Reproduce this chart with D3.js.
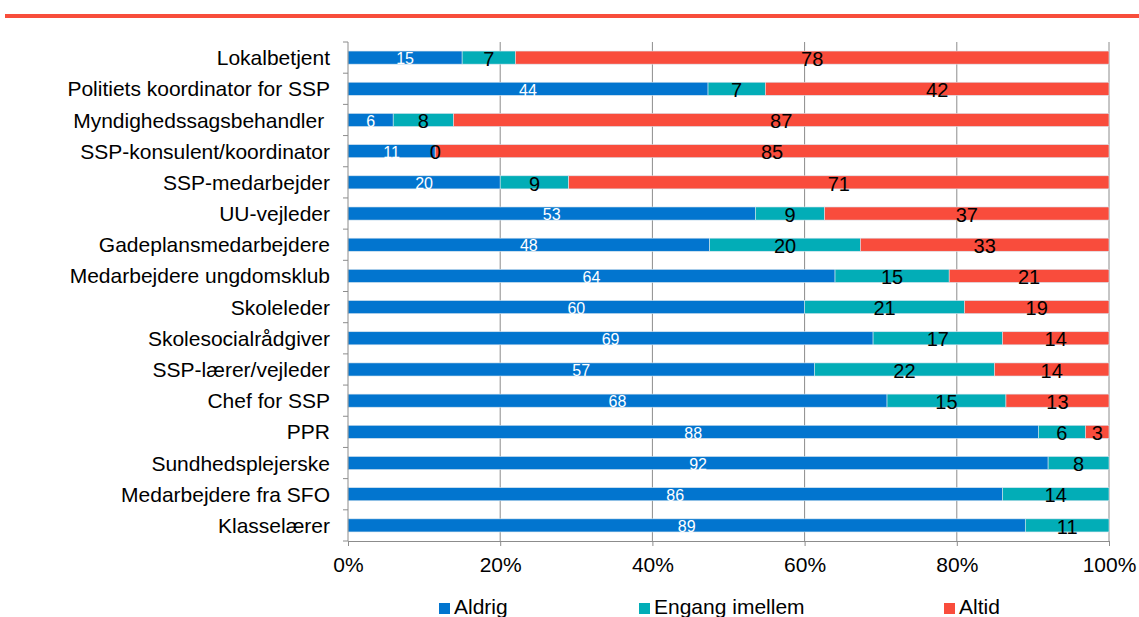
<!DOCTYPE html>
<html>
<head>
<meta charset="utf-8">
<script src="https://cdn.jsdelivr.net/npm/d3@7"></script>
<style>
  html, body { margin: 0; padding: 0; background: #fff; }
  svg { display: block; font-family: "Liberation Sans", Arial, sans-serif; }
</style>
</head>
<body>
<svg id="chart" width="1139" height="617"></svg>
<script>
// Roles, top to bottom
const categories = [
  "Lokalbetjent",
  "Politiets koordinator for SSP",
  "Myndighedssagsbehandler ",
  "SSP-konsulent/koordinator",
  "SSP-medarbejder",
  "UU-vejleder",
  "Gadeplansmedarbejdere",
  "Medarbejdere ungdomsklub",
  "Skoleleder",
  "Skolesocialrådgiver",
  "SSP-lærer/vejleder",
  "Chef for SSP",
  "PPR",
  "Sundhedsplejerske",
  "Medarbejdere fra SFO",
  "Klasselærer"
];
const aldrig  = [15, 44, 6, 11, 20, 53, 48, 64, 60, 69, 57, 68, 88, 92, 86, 89];
const engang  = [7, 7, 8, 0, 9, 9, 20, 15, 21, 17, 22, 15, 6, 8, 14, 11];
const altid   = [78, 42, 87, 85, 71, 37, 33, 21, 19, 14, 14, 13, 3, null, null, null];
const seriesNames = ["Aldrig", "Engang imellem", "Altid"];
const tickValues = [0, 0.2, 0.4, 0.6, 0.8, 1.0];

const colors = ["#0275CF", "#02ADB7", "#F94C3C"];
const labelColors = ["#ffffff", "#000000", "#000000"];

const svg = d3.select("#chart");
const margin = { left: 348, right: 30, top: 42, bottom: 76 };
const W = 1139, H = 617;

// top accent rule
svg.append("rect").attr("x", 5).attr("y", 14).attr("width", W - 5).attr("height", 4).attr("fill", "#F84D3B");

const x = d3.scaleLinear().domain([0, 1]).range([margin.left, W - margin.right]);
const y = d3.scaleBand().domain(categories).range([margin.top, H - margin.bottom]).paddingInner(0.58).paddingOuter(0.29);

// gridlines
svg.append("g").selectAll("line").data(tickValues.slice(1)).join("line")
  .attr("x1", d => x(d)).attr("x2", d => x(d))
  .attr("y1", margin.top).attr("y2", H - margin.bottom)
  .attr("stroke", "#8c8c8c").attr("stroke-width", 1);

// stacked, normalised rows
const rows = categories.map((c, i) => {
  const vals = [aldrig[i], engang[i], altid[i]];
  const total = d3.sum(vals, v => v || 0);
  let acc = 0;
  return vals.map((v, k) => {
    const x0 = acc / total;
    acc += (v || 0);
    return { cat: c, k, v, x0, x1: acc / total };
  });
});

const g = svg.append("g");
rows.forEach(segs => {
  segs.forEach(s => {
    if (s.v === null) return;
    g.append("rect")
      .attr("x", x(s.x0)).attr("y", y(s.cat))
      .attr("width", Math.max(0, x(s.x1) - x(s.x0)))
      .attr("height", y.bandwidth())
      .attr("fill", colors[s.k])
      .attr("stroke", "#d8e4ee").attr("stroke-width", 0.6);
  });
});
rows.forEach(segs => {
  segs.forEach(s => {
    if (s.v === null) return;
    g.append("text")
      .attr("x", x((s.x0 + s.x1) / 2))
      .attr("y", y(s.cat) + y.bandwidth() / 2 + 1)
      .attr("dy", "0.36em")
      .attr("text-anchor", "middle")
      .attr("font-size", s.k === 0 ? 16 : 20)
      .attr("fill", labelColors[s.k])
      .text(s.v);
  });
});

// axes
const yAxis = svg.append("g").attr("transform", `translate(${margin.left},0)`);
yAxis.append("line").attr("x1", 0).attr("x2", 0).attr("y1", margin.top).attr("y2", H - margin.bottom)
  .attr("stroke", "#8c8c8c");
const bounds = d3.range(categories.length + 1).map(i => margin.top + (H - margin.top - margin.bottom) * i / categories.length);
yAxis.selectAll("line.t").data(bounds).join("line").attr("class", "t")
  .attr("x1", -5).attr("x2", 0).attr("y1", d => d).attr("y2", d => d).attr("stroke", "#8c8c8c");
yAxis.selectAll("text").data(categories).join("text")
  .attr("x", -18).attr("y", d => y(d) + y.bandwidth() / 2).attr("dy", "0.36em")
  .attr("text-anchor", "end").attr("font-size", 21).attr("fill", "#000")
  .style("white-space", "pre").attr("xml:space", "preserve")
  .text(d => d);

const xAxis = d3.axisBottom(x).tickValues(tickValues).tickFormat(d3.format(".0%")).tickSize(5).tickPadding(11);
const xg = svg.append("g").attr("transform", `translate(0,${H - margin.bottom})`).call(xAxis);
xg.select(".domain").attr("stroke", "#8c8c8c");
xg.selectAll(".tick line").attr("stroke", "#8c8c8c");
xg.selectAll(".tick text").attr("font-size", 21).attr("fill", "#000").attr("font-family", "Liberation Sans, Arial, sans-serif");

// legend
const legendX = [439, 639, 944];
const lg = svg.append("g");
seriesNames.forEach((n, i) => {
  lg.append("rect").attr("x", legendX[i]).attr("y", 603).attr("width", 11).attr("height", 11).attr("fill", colors[i]);
  lg.append("text").attr("x", legendX[i] + 15).attr("y", 614)
    .attr("font-size", 21).attr("fill", "#000").text(n);
});
</script>
</body>
</html>
